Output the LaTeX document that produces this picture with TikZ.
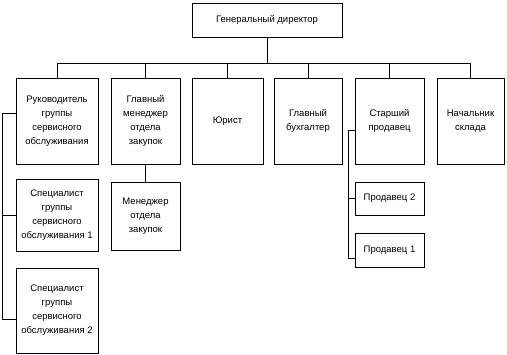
\documentclass[tikz,border=0pt]{standalone}
\usepackage{fontspec}
\setmainfont{Liberation Sans}
\usepackage{tikz}
\usetikzlibrary{positioning,calc}

\begin{document}
\begin{tikzpicture}[x=1pt, y=-1pt,
    box/.style={draw, line width=0.9pt, align=center, inner sep=1pt,
      font=\fontsize{9.5}{14}\selectfont},
    link/.style={line width=0.9pt}]
    \useasboundingbox (0,0) rectangle (507,355);
    % top
    \node[box, minimum width=150pt, minimum height=34pt] (dir) at (267, 20) {Генеральный директор};
    % first row
    \foreach \nm/\cx/\w/\txt in {ruk/57/82/{Руководитель\\группы\\сервисного\\обслуживания},
        glav/145.5/69/{Главный\\менеджер\\отдела\\закупок},
        yur/227.5/71/{Юрист},
        buh/308/68/{Главный\\бухгалтер},
        star/389.5/69/{Старший\\продавец},
        nach/470.5/67/{Начальник\\склада}} {
      \node[box, minimum width=\w pt, minimum height=86pt] (\nm) at (\cx, 121) {\txt};
    }
    % lower boxes
    \node[box, minimum width=82pt, minimum height=72pt] (spec1) at (57, 215) {Специалист\\группы\\сервисного\\обслуживания 1};
    \node[box, minimum width=82pt, minimum height=85pt] (spec2) at (57, 310.5) {Специалист\\группы\\сервисного\\обслуживания 2};
    \node[box, minimum width=69pt, minimum height=68pt] (men) at (145.5, 216) {Менеджер\\отдела\\закупок};
    \node[box, minimum width=69pt, minimum height=33pt] (prod2) at (389.5, 198.5) {Продавец 2};
    \node[box, minimum width=69pt, minimum height=34pt] (prod1) at (389.5, 250) {Продавец 1};
    % bus from the director
    \draw[link] (dir.south) -- ++(0,26) coordinate (bus);
    \draw[link] (bus -| ruk.north) -- (bus -| nach.north);
    \foreach \nm in {ruk, glav, yur, buh, star, nach}
      \draw[link] (bus -| \nm.north) -- (\nm.north);
    % service group
    \draw[link] ([yshift=8pt]ruk.west) -- ++(-13,0) |- ([yshift=-8.5pt]spec2.west);
    \draw[link] (spec1.west) -- ++(-13,0);
    % purchasing
    \draw[link] (glav.south) -- (men.north);
    % sellers
    \draw[link] ([yshift=-9pt]star.west) -- ++(-6,0) |- ([yshift=-8pt]prod1.west);
    \draw[link] (prod2.west) -- ++(-6,0);
  \end{tikzpicture}
\end{document}
